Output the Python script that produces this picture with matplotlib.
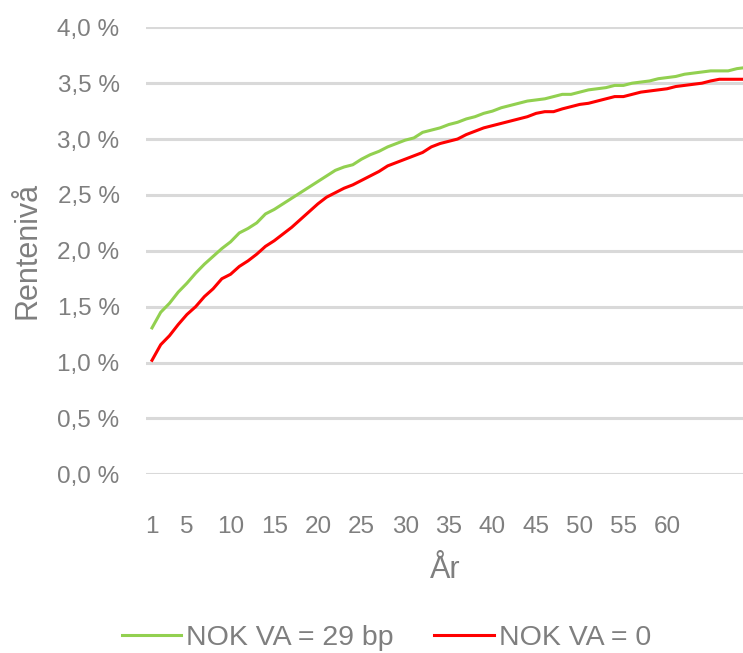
import matplotlib
matplotlib.use("Agg")
import matplotlib.pyplot as plt
from matplotlib.ticker import FuncFormatter

plt.rcParams["font.family"] = ["Liberation Sans", "DejaVu Sans"]

TEXT_GRAY = "#7f7f7f"
GRID_GRAY = "#d9d9d9"

years = list(range(1, 71))

# NOK VA = 29 bp (percent)
rate_va29 = [
    1.31, 1.45, 1.53, 1.63, 1.71, 1.80, 1.88, 1.95, 2.02, 2.08,
    2.16, 2.20, 2.25, 2.33, 2.37, 2.42, 2.47, 2.52, 2.57, 2.62,
    2.67, 2.72, 2.75, 2.77, 2.82, 2.86, 2.89, 2.93, 2.96, 2.99,
    3.01, 3.06, 3.08, 3.10, 3.13, 3.15, 3.18, 3.20, 3.23, 3.25,
    3.28, 3.30, 3.32, 3.34, 3.35, 3.36, 3.38, 3.40, 3.40, 3.42,
    3.44, 3.45, 3.46, 3.48, 3.48, 3.50, 3.51, 3.52, 3.54, 3.55,
    3.56, 3.58, 3.59, 3.60, 3.61, 3.61, 3.61, 3.63, 3.64, 3.65,
]

# NOK VA = 0 (percent)
rate_va0 = [
    1.02, 1.16, 1.24, 1.34, 1.43, 1.50, 1.59, 1.66, 1.75, 1.79,
    1.86, 1.91, 1.97, 2.04, 2.09, 2.15, 2.21, 2.28, 2.35, 2.42,
    2.48, 2.52, 2.56, 2.59, 2.63, 2.67, 2.71, 2.76, 2.79, 2.82,
    2.85, 2.88, 2.93, 2.96, 2.98, 3.00, 3.04, 3.07, 3.10, 3.12,
    3.14, 3.16, 3.18, 3.20, 3.23, 3.245, 3.245, 3.27, 3.29, 3.31,
    3.32, 3.34, 3.36, 3.38, 3.38, 3.40, 3.42, 3.43, 3.44, 3.45,
    3.47, 3.48, 3.49, 3.50, 3.52, 3.535, 3.535, 3.535, 3.535, 3.54,
]

x_ticks = [1, 5, 10, 15, 20, 25, 30, 35, 40, 45, 50, 55, 60]
y_ticks = [0.0, 0.5, 1.0, 1.5, 2.0, 2.5, 3.0, 3.5, 4.0]

fig = plt.figure(figsize=(7.43, 6.53), dpi=100)
ax = fig.add_axes([146 / 743, 1 - 474.3 / 653, 597 / 743, 447 / 653])

ax.plot(years, rate_va29, color="#92d050", linewidth=2.2, label="NOK VA = 29 bp")
ax.plot(years, rate_va0, color="#ff0000", linewidth=2.2, label="NOK VA = 0")

ax.set_ylim(0, 4)
ax.set_xlim(0.313, 68.7)
ax.set_yticks(y_ticks)
ax.set_xticks(x_ticks)
ax.yaxis.set_major_formatter(FuncFormatter(lambda v, p: f"{v:.1f} %".replace(".", ",")))
ax.grid(axis="y", color=GRID_GRAY, linewidth=2.2)
ax.set_axisbelow(True)
for s in ax.spines.values():
    s.set_visible(False)
ax.tick_params(axis="both", length=0, labelcolor=TEXT_GRAY, labelsize=17.5)
ax.tick_params(axis="y", pad=19)
ax.tick_params(axis="x", pad=30)

fig.text(445 / 743, 1 - 570 / 653, "År", ha="center", va="center",
         fontsize=22, color=TEXT_GRAY)
fig.text(28 / 743, 1 - 250 / 653, "Rentenivå", ha="center", va="center",
         rotation=90, fontsize=22, color=TEXT_GRAY)

leg = fig.legend(loc="center", bbox_to_anchor=(0.52, 1 - 638 / 653), ncol=2,
                 frameon=False, fontsize=20.5, handlelength=2.1, handletextpad=0.18,
                 columnspacing=1.4, borderaxespad=0)
for t in leg.get_texts():
    t.set_color(TEXT_GRAY)

fig.savefig("out.png", dpi=100)
